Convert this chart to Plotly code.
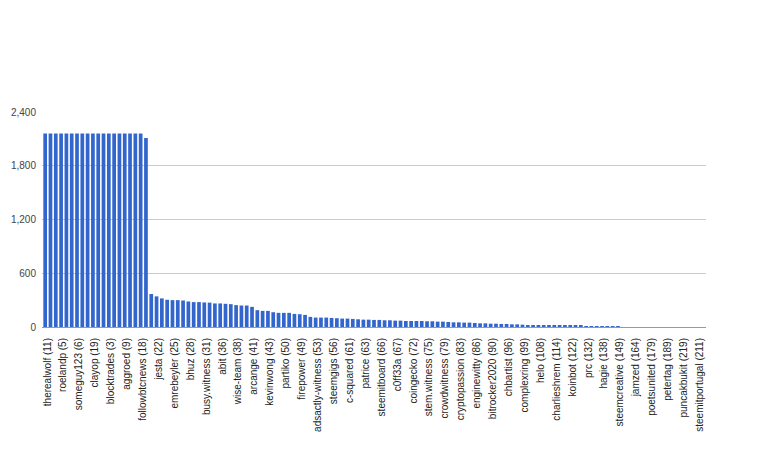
import plotly.graph_objects as go

# Tick labels shown on the x axis (every third bar is labelled)
tick_labels = [
    "therealwolf (11)", "roelandp (5)", "someguy123 (6)", "clayop (19)", "blocktrades (3)",
    "aggroed (9)", "followbtcnews (18)", "jesta (22)", "emrebeyler (25)", "bhuz (28)",
    "busy.witness (31)", "abit (36)", "wise-team (38)", "arcange (41)", "kevinwong (43)",
    "partiko (50)", "firepower (49)", "adsactly-witness (53)", "steemgigs (56)", "c-squared (61)",
    "patrice (63)", "steemitboard (66)", "c0ff33a (67)", "coingecko (72)", "stem.witness (75)",
    "crowdwitness (79)", "cryptopassion (83)", "enginewitty (86)", "bitrocker2020 (90)", "chbartist (96)",
    "complexring (99)", "helo (108)", "charlieshrem (114)", "koinbot (122)", "prc (132)",
    "hagie (138)", "steemcreative (149)", "jamzed (164)", "poetsunited (179)", "petertag (189)",
    "puncakbukit (219)", "steemitportugal (211)",
]

# Bar values
top_values = [2160] * 19 + [2110]
mid_values = [368, 342, 319, 304, 300, 300, 296, 285, 278, 278,
              274, 272, 263, 263, 259, 255, 244, 240, 240, 225,
              188, 180, 180, 165, 158, 158, 158, 146, 143, 135,
              113, 105, 105, 105, 101, 98]
low_values = [94, 94, 90, 86, 82, 82, 79, 79, 75, 75,
              71, 71, 67, 67, 67, 67, 64, 64, 60, 60,
              56, 52, 52, 49, 49, 45, 41, 41, 37, 37,
              34, 34, 30, 30, 26, 22]
tail_values = [22, 20, 19, 18, 17, 16, 15, 14, 13, 12,
               11, 10, 9, 8, 7, 6, 5,
               0, 0, 0, 0, 0, 0, 0, 0, 0, 0, 0, 0, 0, 0, 0, 0]
values = top_values + mid_values + low_values + tail_values
positions = list(range(len(values)))
tick_step = 3
tick_positions = [p + 0.4 for p in positions[::tick_step][:len(tick_labels)]]

fig = go.Figure(go.Bar(x=positions, y=values, marker_color="#3366cc",
                       marker_line_width=0))

fig.update_layout(
    width=768, height=461,
    margin=dict(l=34, r=70, t=104, b=142),
    plot_bgcolor="white", paper_bgcolor="white",
    bargap=0.3,
    showlegend=False,
    font=dict(family="Liberation Sans, Arial, sans-serif", size=10, color="#444"),
)
fig.update_xaxes(
    tickmode="array", tickvals=tick_positions, ticktext=tick_labels,
    tickangle=-90, showgrid=False, zeroline=False, ticks="",
    range=[-0.6, len(values) - 0.4], automargin=False,
    ticklabelstandoff=8,
    tickfont=dict(size=10, color="#222"),
)
fig.update_yaxes(
    range=[0, 2400], tickvals=[0, 600, 1200, 1800, 2400], tickformat=",d",
    showgrid=True, gridcolor="#cccccc", gridwidth=1,
    zeroline=True, zerolinecolor="#999999", zerolinewidth=1,
    tickfont=dict(size=10, color="#444"), ticks="", ticklen=0,
    ticklabelstandoff=5,
    automargin=False,
)

fig.write_html("out.html")
